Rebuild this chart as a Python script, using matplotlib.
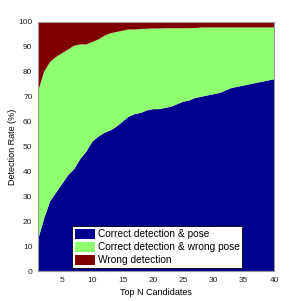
import numpy as np
import matplotlib
matplotlib.use('Agg')
from matplotlib import pyplot as plt

plt.rcParams['font.family'] = ['Liberation Sans', 'DejaVu Sans']

# data
top_n = np.arange(1, 41)
correct_pose = [12.5, 21, 28, 31.5, 35, 38.5, 41, 45, 48, 52,
                54, 55.5, 56.5, 58, 60, 62, 63, 63.5, 64.5, 65,
                65, 65.5, 66, 67, 68, 68.5, 69.5, 70, 70.5, 71,
                71.5, 72.5, 73.5, 74, 74.5, 75, 75.5, 76, 76.5, 77]
correct_det = [72, 80, 84, 86, 87.5, 89, 90.5, 91, 91, 92,
               93, 94.5, 95.5, 96, 96.5, 97, 97, 97.2, 97.3, 97.4,
               97.4, 97.5, 97.5, 97.5, 97.5, 97.5, 97.6, 97.8, 97.8, 97.8,
               97.8, 97.8, 97.8, 97.8, 97.8, 97.8, 97.8, 97.8, 97.8, 97.8]
labels = ['Correct detection & pose', 'Correct detection & wrong pose', 'Wrong detection']
colors = ['#00008F', '#8FFF70', '#800000']

correct_pose = np.array(correct_pose)
correct_det = np.array(correct_det)
wrong_pose = correct_det - correct_pose
wrong_det = 100 - correct_det

fig = plt.figure(figsize=(2.99, 3.01), dpi=100)
ax = fig.add_axes([38 / 299, 30 / 301, 236 / 299, 249 / 301])

ax.stackplot(top_n, correct_pose, wrong_pose, wrong_det,
             colors=colors, labels=labels, linewidth=0)

ax.set_xlim(1, 40)
ax.set_ylim(0, 100)
ax.set_xticks(range(5, 41, 5))
ax.set_yticks(range(0, 101, 10))
ax.tick_params(length=0, labelsize=6, pad=4, colors='#222222')
for s in ax.spines.values():
    s.set_color('#999999')
    s.set_linewidth(0.8)

ax.set_xlabel('Top N Candidates', fontsize=6.5, labelpad=3)
ax.set_ylabel('Detection Rate (%)', fontsize=6.5, labelpad=1)

leg = ax.legend(loc='lower left', bbox_to_anchor=(0.145, 0.012), fontsize=7.3,
                frameon=True, fancybox=False, framealpha=1,
                edgecolor='black', borderpad=0.25, labelspacing=0.28,
                handlelength=2.0, handleheight=1.1, handletextpad=0.25,
                borderaxespad=0)
leg.get_frame().set_linewidth(0.6)

fig.savefig('out.png', dpi=100)
